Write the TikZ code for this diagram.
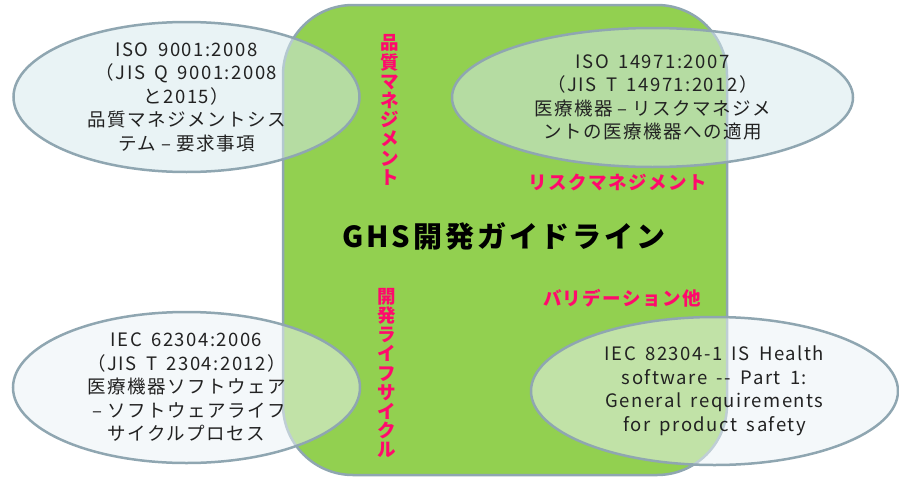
\documentclass[tikz,border=0pt]{standalone}
\usepackage{fontspec}
\setmainfont{Noto Sans CJK JP}[LetterSpace=8,WordSpace=1.7]
\newfontfamily\titlefont{Noto Sans CJK JP}[LetterSpace=10,WordSpace=1.7]
\usetikzlibrary{shapes.geometric}
\definecolor{ghsgreen}{HTML}{92D050}
\definecolor{edgegray}{HTML}{8FA6B1}
\definecolor{ellA}{HTML}{D5E8EC}
\definecolor{ellB}{HTML}{EBF2F6}
\definecolor{pinklab}{HTML}{FF0A6C}
\definecolor{txt}{HTML}{222222}
\newcommand{\jdash}{\makebox[1.08em]{–}}
\tikzset{
  stdell/.style={ellipse, draw=edgegray, line width=2.5pt, fill opacity=0.53, inner sep=0pt},
  elltext/.style={align=center, text=txt, inner sep=0pt, font=\fontsize{18.5}{23.5}\selectfont},
  pinkh/.style={text=pinklab, inner sep=0pt, font=\fontsize{18.5}{22}\selectfont\bfseries},
  pinkv/.style={text=pinklab, inner sep=0pt, align=center, font=\fontsize{18.5}{19.2}\selectfont\bfseries},
}
\begin{document}
\begin{tikzpicture}[x=1pt,y=-1pt]
\useasboundingbox (0,0) rectangle (899,479);
\node[draw=edgegray, line width=2.5pt, fill=ghsgreen, rounded corners=70pt, inner sep=0pt,
      minimum width=444pt, minimum height=470pt] (main) at (505,240) {};
\node[inner sep=0pt, font=\titlefont\fontsize{29}{31}\selectfont\bfseries] (title) at (504,236) {GHS開発ガイドライン};
\node[pinkv] (qm) at (390,110) {品\\質\\マ\\ネ\\ジ\\メ\\ン\\ト};
\node[pinkv] (lc) at (387,373) {開\\発\\ラ\\イ\\フ\\サ\\イ\\ク\\ル};
\node[pinkh] (rm) at (618,182) {リスクマネジメント};
\node[pinkh] (val) at (622,298) {バリデーション他};
\node[stdell, fill=ellA, minimum width=346pt, minimum height=150pt] (e1) at (186.5,97) {};
\node[stdell, fill=ellA, minimum width=401pt, minimum height=139pt] (e2) at (652.5,97.5) {};
\node[stdell, fill=ellB, minimum width=347pt, minimum height=151pt] (e3) at (186.5,387.5) {};
\node[stdell, fill=ellB, minimum width=367pt, minimum height=148pt] (e4) at (714.5,391) {};
\node[elltext] (t1) at (e1.center) {ISO 9001:2008\\（JIS Q 9001:2008\\と2015）\\品質マネジメントシス\\テム\jdash 要求事項};
\node[elltext] (t2) at (e2.center) {ISO 14971:2007\\（JIS T 14971:2012）\\医療機器\jdash リスクマネジメ\\ントの医療機器への適用};
\node[elltext] (t3) at (e3.center) {IEC 62304:2006\\（JIS T 2304:2012）\\医療機器ソフトウェア\\\jdash ソフトウェアライフ\\サイクルプロセス};
\node[elltext] (t4) at (e4.center) {IEC 82304-1 IS Health\\software -{}- Part 1:\\General requirements\\for product safety};
\end{tikzpicture}
\end{document}
